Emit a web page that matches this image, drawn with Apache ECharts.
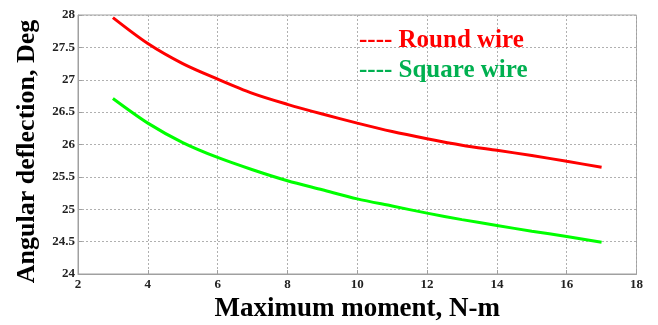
<!DOCTYPE html>
<html>
<head>
<meta charset="utf-8">
<script src="https://cdn.jsdelivr.net/npm/echarts@6/dist/echarts.min.js"></script>
<style>html,body{margin:0;padding:0;background:#fff;}#c{width:658px;height:325px;}</style>
</head>
<body>
<div id="c"></div>
<script>
var moments = [3, 4, 5, 6, 7, 8, 9, 10, 11, 12, 13, 14, 15, 16, 17];
var roundWire = [27.96, 27.56, 27.25, 27.01, 26.79, 26.62, 26.47, 26.33, 26.20, 26.09, 25.99, 25.91, 25.83, 25.74, 25.65];
var squareWire = [26.71, 26.33, 26.03, 25.80, 25.61, 25.44, 25.30, 25.16, 25.05, 24.94, 24.84, 24.75, 24.66, 24.58, 24.49];
var xTicks = [2, 4, 6, 8, 10, 12, 14, 16, 18];
var yTicks = [24, 24.5, 25, 25.5, 26, 26.5, 27, 27.5, 28];

function pairs(xs, ys) { return xs.map(function (x, i) { return [x, ys[i]]; }); }

var serif = '"Liberation Serif", "DejaVu Serif", serif';
var chart = echarts.init(document.getElementById('c'), null, { renderer: 'canvas' });
chart.setOption({
  animation: false,
  backgroundColor: '#fff',
  grid: { left: 78, right: 21.5, top: 15, bottom: 51, show: true, borderColor: '#a0a0a0', borderWidth: 1,
          containLabel: false, outerBoundsMode: 'none' },
  legend: {
    orient: 'vertical', left: 349, top: 23, itemWidth: 0, itemHeight: 0, itemGap: 5,
    icon: 'none', selectedMode: false,
    formatter: function (n) { return '---- ' + n; },
    data: [
      { name: 'Round wire', textStyle: { color: '#ff0000' } },
      { name: 'Square wire', textStyle: { color: '#00b050' } }
    ],
    textStyle: { fontFamily: serif, fontWeight: 'bold', fontSize: 25, padding: 0 }
  },
  xAxis: {
    type: 'value', min: xTicks[0], max: xTicks[xTicks.length - 1], interval: 2,
    name: 'Maximum moment, N-m', nameLocation: 'middle', nameGap: 21,
    nameTextStyle: { fontFamily: serif, fontWeight: 'bold', fontSize: 27, color: '#000' },
    axisLine: { show: true, lineStyle: { color: '#a0a0a0', width: 1 } },
    axisTick: { show: true, inside: true, length: 4, lineStyle: { color: '#a0a0a0' } },
    axisLabel: { fontFamily: serif, fontWeight: 'bold', fontSize: 13, color: '#222', margin: 4 },
    splitLine: { show: true, lineStyle: { color: '#b0b0b0', type: [2, 2], width: 1 } }
  },
  yAxis: {
    type: 'value', min: yTicks[0], max: yTicks[yTicks.length - 1], interval: 0.5,
    name: 'Angular deflection, Deg', nameLocation: 'middle', nameGap: 38, nameRotate: 90,
    nameTextStyle: { fontFamily: serif, fontWeight: 'bold', fontSize: 26, color: '#000', padding: [0, 14, 0, 0] },
    axisLine: { show: true, lineStyle: { color: '#a0a0a0', width: 1 } },
    axisTick: { show: true, inside: true, length: 4, lineStyle: { color: '#a0a0a0' } },
    axisLabel: { fontFamily: serif, fontWeight: 'bold', fontSize: 13, color: '#222', margin: 3 },
    splitLine: { show: true, lineStyle: { color: '#b0b0b0', type: [2, 2], width: 1 } }
  },
  series: [
    { name: 'Round wire', type: 'line', data: pairs(moments, roundWire), smooth: 0.3, showSymbol: false,
      lineStyle: { color: '#ff0000', width: 3 }, itemStyle: { color: '#ff0000' } },
    { name: 'Square wire', type: 'line', data: pairs(moments, squareWire), smooth: 0.3, showSymbol: false,
      lineStyle: { color: '#00ff00', width: 3 }, itemStyle: { color: '#00b050' } }
  ]
});
</script>
</body>
</html>
